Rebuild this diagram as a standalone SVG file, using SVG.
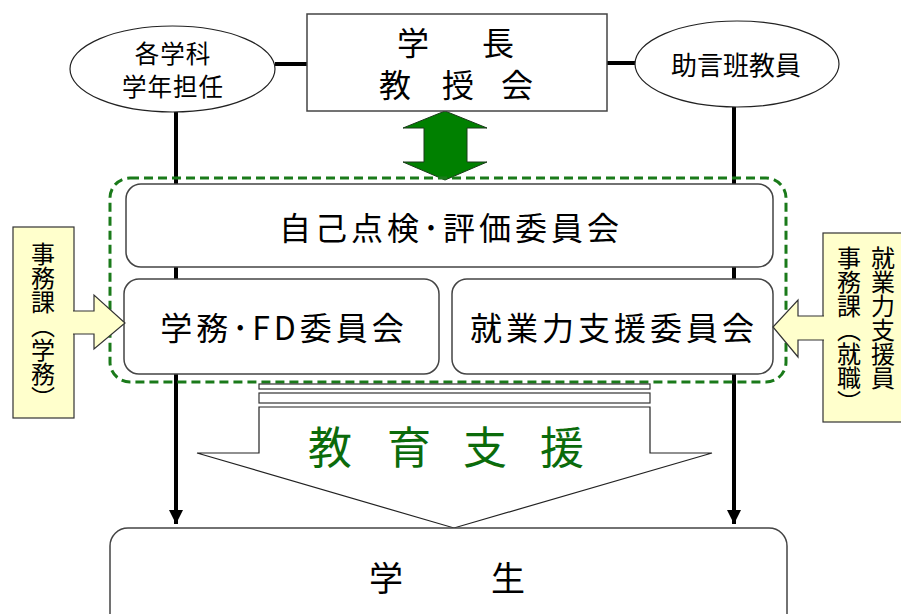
<svg xmlns="http://www.w3.org/2000/svg" width="901" height="614" viewBox="0 0 901 614">
<style>
text{font-family:"Noto Sans CJK JP","Noto Sans",sans-serif;fill:#000}
.box{fill:#fff;stroke:#444;stroke-width:1.5}
.ell{fill:#fff;stroke:#222;stroke-width:1.2}
.yel{fill:#FFFFCC;stroke:#333;stroke-width:1.2}
.conn{stroke:#000;stroke-width:4;fill:none}
.vt{writing-mode:vertical-rl;font-size:24px}
.lbl{font-size:32px;letter-spacing:4px;text-anchor:middle}
</style>
<defs>
<marker id="ah" markerUnits="userSpaceOnUse" markerWidth="16" markerHeight="14" refX="14" refY="7" orient="auto">
<path d="M0,0 L14,7 L0,14 Z" fill="#000"/>
</marker>
</defs>
<rect width="901" height="614" fill="#fff"/>

<g id="connectors">
<line class="conn" x1="275" y1="64" x2="307" y2="64"/>
<line class="conn" x1="607" y1="63" x2="636" y2="63"/>
<line class="conn" x1="176" y1="112" x2="176" y2="524" marker-end="url(#ah)"/>
<line class="conn" x1="734" y1="107" x2="734" y2="524" marker-end="url(#ah)"/>
<polygon points="445,111 487,128 467,128 467,162 487,162 445,180 403,162 424,162 424,128 403,128" fill="#008000" stroke="#1a3a1a" stroke-width="1"/>
</g>

<g id="top">
<rect class="box" x="307" y="14" width="300" height="97"/>
<text font-size="32"><tspan x="397 440 482" y="55">学　長</tspan><tspan x="379 410 442 472 501" y="97">教　授　会</tspan></text>
</g>

<g id="ellipse-left">
<ellipse class="ell" cx="172.5" cy="69" rx="102.5" ry="43"/>
<text font-size="24.5" text-anchor="middle" letter-spacing="1"><tspan x="173" y="63">各学科</tspan><tspan x="173" y="96">学年担任</tspan></text>
</g>

<g id="ellipse-right">
<ellipse class="ell" cx="737" cy="64" rx="102" ry="43"/>
<text font-size="26" x="736" y="75" text-anchor="middle">助言班教員</text>
</g>

<g id="group-dashed">
<rect x="110" y="178" width="676" height="204" rx="20" fill="none" stroke="#1A7A1A" stroke-width="3" stroke-dasharray="9 5"/>
</g>

<g id="jiko">
<rect class="box" x="126" y="184" width="647" height="83" rx="15"/>
<text class="lbl" x="451" y="240">自己点検･評価委員会</text>
</g>

<g id="gakumu">
<rect class="box" x="124" y="279" width="315" height="95" rx="15"/>
<text class="lbl" x="284" y="340">学務･FD委員会</text>
</g>

<g id="shugyo">
<rect class="box" x="452" y="279" width="321" height="95" rx="15"/>
<text class="lbl" x="614" y="340">就業力支援委員会</text>
</g>

<g id="jimu-left">
<rect class="yel" x="13" y="227" width="61" height="191"/>
<path d="M73,311 H94 V295 L125,323 L94,349 V334 H73" fill="#FFFFCC" stroke="#333" stroke-width="1.2"/>
<text class="vt" x="43" y="242">事務課（学務）</text>
</g>

<g id="jimu-right">
<rect class="yel" x="823" y="233" width="84" height="189"/>
<path d="M824,316 H798 V300 L773,327 L798,357 V340 H824" fill="#FFFFCC" stroke="#333" stroke-width="1.2"/>
<text class="vt" x="883" y="246">就業力支援員</text>
<text class="vt" x="849" y="246">事務課（就職）</text>
</g>

<g id="kyoiku-shien">
<rect x="259" y="384" width="391" height="5" fill="#fff" stroke="#333" stroke-width="1.2"/>
<rect x="259" y="393" width="391" height="10" fill="#fff" stroke="#333" stroke-width="1.2"/>
<polygon points="259,407 650,407 650,453 712,453 454,528 197,453 259,453" fill="#fff" stroke="#222" stroke-width="1.2"/>
<text font-size="44" x="308 348 387 426 463 502 540" y="464" style="fill:#0B6B0B">教 育 支 援</text>
</g>

<g id="gakusei">
<rect class="box" x="110" y="528" width="677" height="110" rx="18"/>
<text font-size="34" x="369 410 451 491" y="591">学　　生</text>
</g>
</svg>
